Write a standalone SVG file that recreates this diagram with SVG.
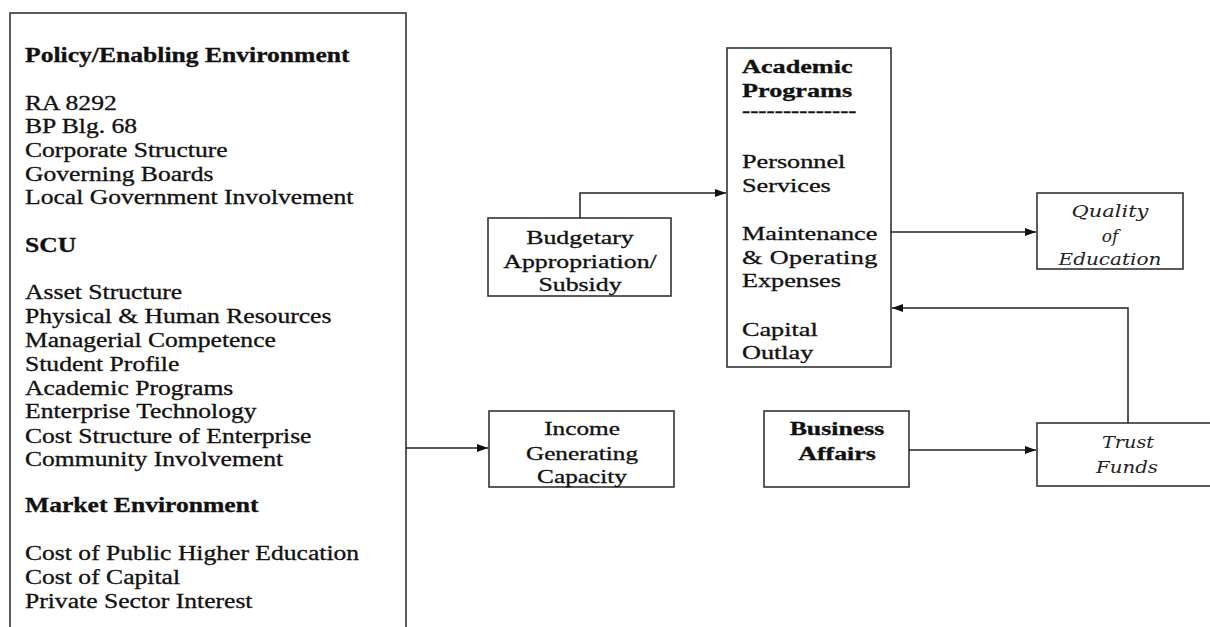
<svg xmlns="http://www.w3.org/2000/svg" width="1210" height="627" viewBox="0 0 1210 627">
<defs>
<style>
.box{fill:#fff;stroke:#333;stroke-width:1.6}
.t{font-family:"Liberation Serif","Times New Roman",serif;font-size:20px;fill:#111;stroke:#111;stroke-width:0.3}
.r{font-family:"Liberation Serif","Times New Roman",serif;font-size:19px;fill:#111;stroke:#111;stroke-width:0.3}
.b{font-weight:bold}
.i{font-family:"DejaVu Serif","Liberation Serif",serif;font-style:italic;font-size:17px;fill:#222}
.c{text-anchor:middle}
.conn{fill:none;stroke:#222;stroke-width:1.5}
</style>
<marker id="arr" markerUnits="userSpaceOnUse" markerWidth="11" markerHeight="8" refX="11" refY="4" orient="auto">
<path d="M0,0 L11,4 L0,8 z" fill="#111"/>
</marker>
</defs>
<rect width="1210" height="627" fill="#fff"/>

<g id="environment">
<rect class="box" x="10" y="13" width="396" height="640"/>
<g transform="translate(25,0) scale(1.28,1)">
<text class="t b" x="0" y="62">Policy/Enabling Environment</text>
<text class="t" x="0" y="110">RA 8292</text>
<text class="t" x="0" y="133">BP Blg. 68</text>
<text class="t" x="0" y="157">Corporate Structure</text>
<text class="t" x="0" y="181">Governing Boards</text>
<text class="t" x="0" y="204">Local Government Involvement</text>
<text class="t b" x="0" y="252">SCU</text>
<text class="t" x="0" y="299">Asset Structure</text>
<text class="t" x="0" y="323">Physical &amp; Human Resources</text>
<text class="t" x="0" y="347">Managerial Competence</text>
<text class="t" x="0" y="371">Student Profile</text>
<text class="t" x="0" y="395">Academic Programs</text>
<text class="t" x="0" y="418">Enterprise Technology</text>
<text class="t" x="0" y="443">Cost Structure of Enterprise</text>
<text class="t" x="0" y="466">Community Involvement</text>
<text class="t b" x="0" y="512">Market Environment</text>
<text class="t" x="0" y="560">Cost of Public Higher Education</text>
<text class="t" x="0" y="584">Cost of Capital</text>
<text class="t" x="0" y="608">Private Sector Interest</text>
</g>
</g>

<g id="budgetary">
<rect class="box" x="488" y="218" width="183" height="78"/>
<g transform="translate(580,0) scale(1.36,1)">
<text class="r c" x="0" y="244">Budgetary</text>
<text class="r c" x="0" y="268">Appropriation/</text>
<text class="r c" x="0" y="291">Subsidy</text>
</g>
</g>

<g id="academic">
<rect class="box" x="727" y="48" width="164" height="319"/>
<g transform="translate(742,0) scale(1.38,1)">
<text class="r b" x="0" y="73">Academic</text>
<text class="r b" x="0" y="97">Programs</text>
<text class="r b" x="0" y="117" textLength="83" lengthAdjust="spacingAndGlyphs">--------------</text>
<text class="r" x="0" y="168">Personnel</text>
<text class="r" x="0" y="192">Services</text>
<text class="r" x="0" y="240">Maintenance</text>
<text class="r" x="0" y="264" textLength="98" lengthAdjust="spacing">&amp; Operating</text>
<text class="r" x="0" y="287">Expenses</text>
<text class="r" x="0" y="336">Capital</text>
<text class="r" x="0" y="359">Outlay</text>
</g>
</g>

<g id="quality">
<rect class="box" x="1037" y="193" width="146" height="76"/>
<text class="i c" x="1110" y="217" textLength="77" lengthAdjust="spacingAndGlyphs">Quality</text>
<text class="i c" x="1110" y="242">of</text>
<text class="i c" x="1110" y="265" textLength="103" lengthAdjust="spacingAndGlyphs">Education</text>
</g>

<g id="income">
<rect class="box" x="489" y="411" width="185" height="76"/>
<g transform="translate(582,0) scale(1.33,1)">
<text class="r c" x="0" y="435">Income</text>
<text class="r c" x="0" y="460">Generating</text>
<text class="r c" x="0" y="483">Capacity</text>
</g>
</g>

<g id="business">
<rect class="box" x="764" y="411" width="145" height="76"/>
<g transform="translate(837,0) scale(1.36,1)">
<text class="r b c" x="0" y="435">Business</text>
<text class="r b c" x="0" y="460">Affairs</text>
</g>
</g>

<g id="trust">
<rect class="box" x="1037" y="423" width="190" height="63"/>
<text class="i c" x="1128" y="448" textLength="52" lengthAdjust="spacingAndGlyphs">Trust</text>
<text class="i c" x="1127" y="473" textLength="62" lengthAdjust="spacingAndGlyphs">Funds</text>
</g>

<g id="connectors">
<path class="conn" d="M580,218 V193 H726" marker-end="url(#arr)"/>
<path class="conn" d="M406,448 H488" marker-end="url(#arr)"/>
<path class="conn" d="M891,232 H1036" marker-end="url(#arr)"/>
<path class="conn" d="M1128,423 V308 H892" marker-end="url(#arr)"/>
<path class="conn" d="M909,450 H1036" marker-end="url(#arr)"/>
</g>
</svg>
